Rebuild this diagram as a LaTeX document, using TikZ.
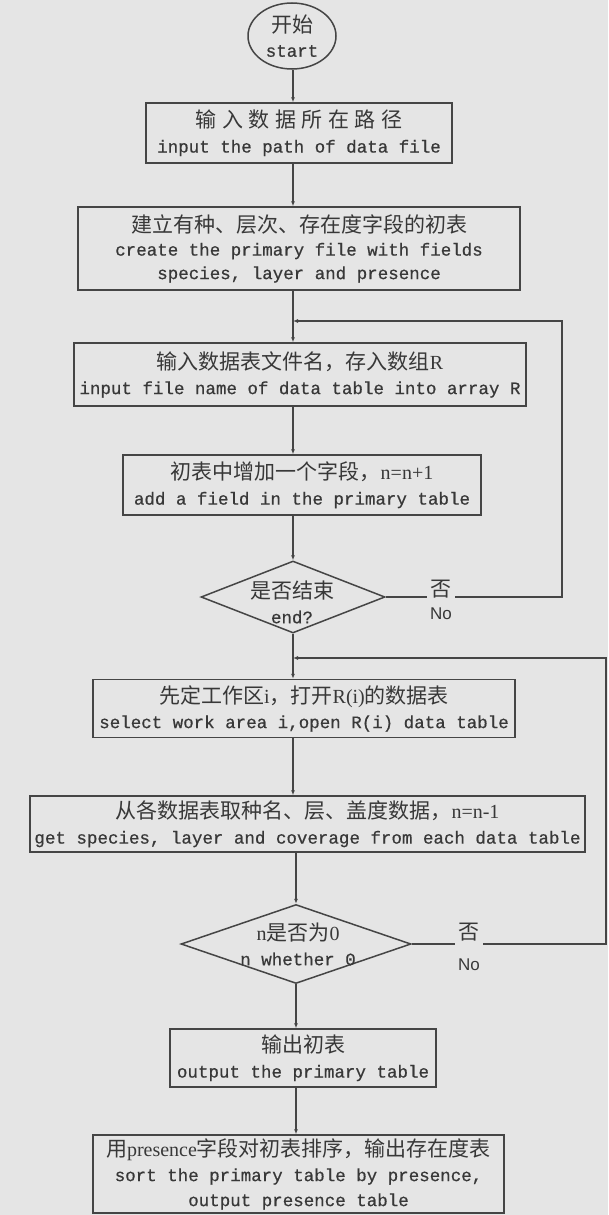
\documentclass[tikz,border=0pt]{standalone}
\usepackage{fontspec}
\setmainfont{Liberation Serif}
\setmonofont[FakeBold=0.6]{Liberation Mono}
\newfontfamily\cjk{Noto Sans CJK SC}
\newfontfamily\nofont{Liberation Sans}
\usetikzlibrary{shapes.geometric,arrows.meta}
\definecolor{bgc}{gray}{0.90}
\definecolor{inkc}{gray}{0.27}
\definecolor{txtc}{gray}{0.22}
\newcommand{\zh}[1]{{\cjk\fontsize{21}{25}\selectfont #1}}
\newcommand{\lt}[1]{{\rmfamily\fontsize{20}{25}\selectfont #1}}
\newcommand{\zhbox}[1]{\makebox[26.5pt]{#1}}
\begin{document}
\begin{tikzpicture}[x=1pt,y=-1pt,line width=1.5pt,
  box/.style={draw=inkc,rectangle,inner sep=0pt,align=center,text=txtc,
    font=\ttfamily\fontsize{17.5}{25}\selectfont},
  dia/.style={draw=inkc,diamond,inner sep=0pt},
  lbl/.style={text=txtc,align=center,inner sep=0pt,
    font=\ttfamily\fontsize{17.5}{25}\selectfont},
  nolbl/.style={text=txtc,align=center,fill=bgc,inner xsep=3pt,inner ysep=0pt},
  arr/.style={draw=inkc,-{Latex[length=5pt,width=4pt]}},
  ln/.style={draw=inkc}]
\fill[bgc] (0,0) rectangle (608,1215);
\useasboundingbox (0,0) rectangle (608,1215);
\coordinate (ax) at (293,0);
\coordinate (lp1) at (562,321);
\coordinate (lp2) at (606,658);
% start
\node[draw=inkc,ellipse,minimum width=88pt,minimum height=66pt,inner sep=0pt,
  text=txtc,align=center,font=\ttfamily\fontsize{17.5}{24}\selectfont]
  (start) at (292,36) {\zh{开始}\\start};
% boxes
\node[box,minimum width=306pt,minimum height=60pt] (b1) at (299,133)
  {\zh{\zhbox{输}\zhbox{入}\zhbox{数}\zhbox{据}\zhbox{所}\zhbox{在}\zhbox{路}\zhbox{径}}\\input the path of data file};
\node[box,minimum width=442pt,minimum height=83pt,font=\ttfamily\fontsize{17.5}{23.5}\selectfont] (b2) at (299,248.5)
  {\zh{建立有种、层次、存在度字段的初表}\\create the primary file with fields\\species, layer and presence};
\node[box,minimum width=452pt,minimum height=63pt] (b3) at (300,374.5)
  {\zh{输入数据表文件名，存入数组\lt{R}}\\input file name of data table into array R};
\node[box,minimum width=358pt,minimum height=60pt] (b4) at (302,485)
  {\zh{初表中增加一个字段，\lt{n=n+1}}\\add a field in the primary table};
\node[dia,minimum width=184pt,minimum height=72pt] (d1) at (293,597) {};
\node[lbl] (d1t) at (292,602) {\zh{是否结束}\\end?};
\node[box,minimum width=422pt,minimum height=58pt] (b5) at (304,708.5)
  {\zh{先定工作区\lt{i}，打开\lt{R(i)}的数据表}\\select work area i,open R(i) data table};
\node[box,minimum width=555pt,minimum height=56pt] (b6) at (307.5,824)
  {\zh{从各数据表取种名、层、盖度数据，\lt{n=n-1}}\\get species, layer and coverage from each data table};
\node[dia,minimum width=230pt,minimum height=79pt] (d2) at (296,944) {};
\node[lbl] (d2t) at (298,944) {\zh{\lt{n}是否为\lt{0}}\\n whether 0};
\node[box,minimum width=266pt,minimum height=58pt] (b7) at (303,1058)
  {\zh{输出初表}\\output the primary table};
\node[box,minimum width=411pt,minimum height=78pt] (b8) at (298.5,1174)
  {\zh{用\lt{presence}字段对初表排序，输出存在度表}\\sort the primary table by presence,\\output presence table};
% main connectors
\draw[arr] (start.south -| ax) -- (ax |- b1.north);
\draw[arr] (b1.south -| ax) -- (ax |- b2.north);
\draw[arr] (b2.south -| ax) -- (ax |- b3.north);
\draw[arr] (b3.south -| ax) -- (ax |- b4.north);
\draw[arr] (b4.south -| ax) -- (d1.north);
\draw[arr] (d1.south) -- (ax |- b5.north);
\draw[arr] (b5.south -| ax) -- (ax |- b6.north);
\draw[arr] (b6.south -| d2.north) -- (d2.north);
\draw[arr] (d2.south) -- (d2.south |- b7.north);
\draw[arr] (b7.south -| d2.south) -- (d2.south |- b8.north);
% loops
\draw[arr] (d1.east) -| (lp1) -- (lp1 -| ax);
\draw[arr] (d2.east) -| (lp2) -- (lp2 -| ax);
\node[nolbl] (no1) at (441,600) {\zh{否}\\[9pt]{\nofont\fontsize{17}{25}\selectfont No}};
\node[nolbl] (no2) at (469,947) {\zh{否}\\[16pt]{\nofont\fontsize{17}{25}\selectfont No}};
\end{tikzpicture}
\end{document}
